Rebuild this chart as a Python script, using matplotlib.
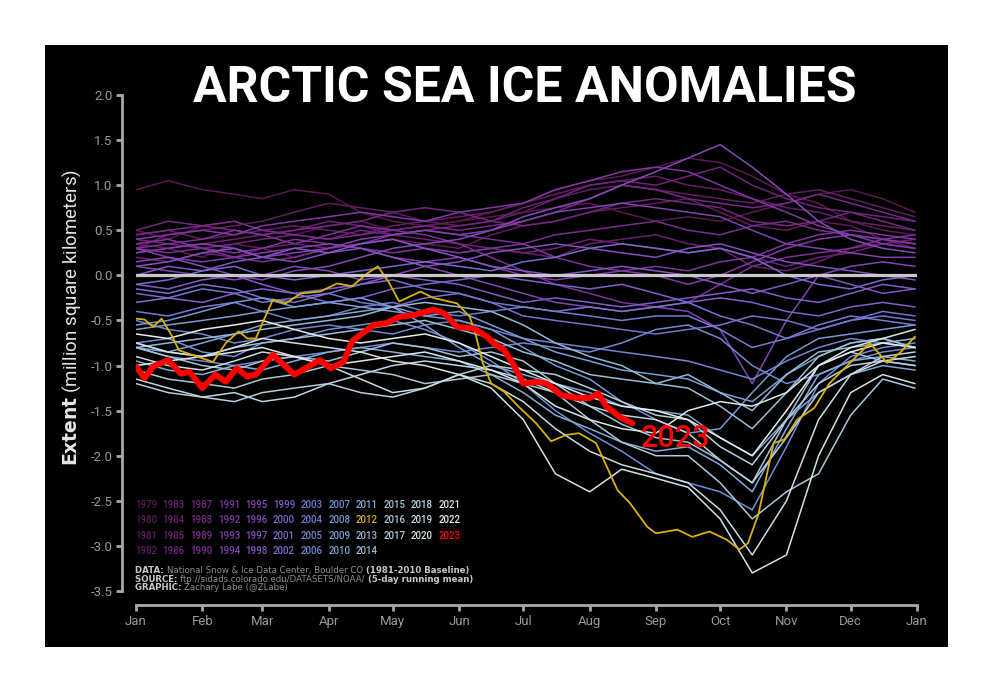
import matplotlib
matplotlib.use("Agg")
import matplotlib.pyplot as plt
from matplotlib.colors import LinearSegmentedColormap
from matplotlib.patches import Rectangle

plt.rcParams['font.family'] = ['Roboto', 'DejaVu Sans']
plt.rcParams['axes.unicode_minus'] = False

# semi-monthly sample days for the historical years
days = [0, 15, 31, 46, 59, 74, 90, 105, 120, 135, 151, 166, 181, 196, 212,
        227, 243, 258, 273, 288, 304, 319, 334, 349, 364]

# extent anomalies (million km^2)
anoms = {
    1979: [0.95, 1.05, 0.95, 0.9, 0.85, 0.95, 0.9, 0.7, 0.6, 0.55, 0.6, 0.65, 0.7, 0.75, 0.8, 0.7, 0.6, 0.65, 0.6, 0.7, 0.8, 0.9, 0.95, 0.85, 0.7],
    1980: [0.5, 0.4, 0.55, 0.6, 0.5, 0.45, 0.55, 0.6, 0.5, 0.55, 0.6, 0.7, 0.8, 0.95, 1.05, 1.1, 1.2, 1.3, 1.25, 1.1, 0.9, 0.8, 0.6, 0.5, 0.45],
    1981: [0.35, 0.3, 0.2, 0.35, 0.3, 0.2, 0.3, 0.35, 0.4, 0.35, 0.3, 0.45, 0.55, 0.6, 0.7, 0.75, 0.8, 0.85, 0.7, 0.55, 0.5, 0.6, 0.55, 0.4, 0.3],
    1982: [0.3, 0.45, 0.5, 0.55, 0.6, 0.7, 0.8, 0.75, 0.7, 0.6, 0.55, 0.6, 0.7, 0.85, 0.95, 1.0, 0.95, 0.9, 0.85, 0.8, 0.9, 0.95, 0.85, 0.75, 0.65],
    1983: [0.45, 0.5, 0.4, 0.45, 0.5, 0.55, 0.5, 0.45, 0.55, 0.6, 0.65, 0.7, 0.8, 0.9, 1.0, 1.05, 1.1, 1.0, 0.95, 0.85, 0.75, 0.7, 0.6, 0.55, 0.5],
    1984: [0.2, 0.15, 0.25, 0.2, 0.3, 0.35, 0.3, 0.35, 0.4, 0.3, 0.25, 0.3, 0.25, 0.2, 0.35, 0.4, 0.45, 0.35, 0.3, 0.1, 0.05, 0.15, 0.3, 0.35, 0.3],
    1985: [0.25, 0.3, 0.35, 0.4, 0.45, 0.5, 0.6, 0.55, 0.45, 0.4, 0.35, 0.3, 0.25, 0.3, 0.4, 0.35, 0.3, 0.25, 0.3, 0.2, 0.1, 0.2, 0.25, 0.35, 0.4],
    1986: [0.4, 0.35, 0.3, 0.35, 0.4, 0.45, 0.4, 0.5, 0.45, 0.5, 0.55, 0.6, 0.75, 0.85, 1.0, 1.05, 1.0, 1.1, 1.2, 1.0, 0.85, 0.75, 0.7, 0.65, 0.6],
    1987: [0.5, 0.6, 0.55, 0.5, 0.45, 0.5, 0.55, 0.6, 0.7, 0.75, 0.7, 0.6, 0.55, 0.6, 0.7, 0.8, 0.85, 0.8, 0.75, 0.6, 0.55, 0.6, 0.7, 0.6, 0.5],
    1988: [0.45, 0.5, 0.55, 0.6, 0.5, 0.45, 0.4, 0.45, 0.5, 0.55, 0.5, 0.55, 0.6, 0.7, 0.85, 1.0, 0.95, 0.85, 0.8, 0.75, 0.8, 0.9, 0.8, 0.7, 0.6],
    1989: [0.3, 0.25, 0.3, 0.2, 0.15, 0.2, 0.3, 0.35, 0.45, 0.5, 0.45, 0.4, 0.35, 0.45, 0.5, 0.55, 0.6, 0.5, 0.45, 0.55, 0.6, 0.5, 0.45, 0.4, 0.35],
    1990: [0.3, 0.35, 0.4, 0.5, 0.45, 0.35, 0.45, 0.55, 0.5, 0.45, 0.35, 0.2, 0.05, -0.1, -0.2, -0.3, -0.35, -0.3, -0.1, 0.1, 0.2, 0.25, 0.3, 0.4, 0.45],
    1991: [0.35, 0.4, 0.3, 0.25, 0.3, 0.4, 0.35, 0.3, 0.25, 0.3, 0.25, 0.3, 0.35, 0.2, 0.1, 0.05, 0.1, 0.05, 0.15, 0.2, 0.35, 0.45, 0.5, 0.45, 0.4],
    1992: [0.4, 0.45, 0.5, 0.45, 0.55, 0.6, 0.65, 0.7, 0.65, 0.6, 0.7, 0.75, 0.8, 0.95, 1.05, 1.15, 1.2, 1.15, 1.0, 0.85, 0.7, 0.55, 0.45, 0.4, 0.35],
    1993: [0.3, 0.2, 0.15, 0.2, 0.25, 0.3, 0.35, 0.3, 0.2, 0.15, 0.2, 0.1, 0.0, -0.05, 0.0, 0.05, 0.0, -0.1, 0.0, 0.15, 0.3, 0.4, 0.45, 0.35, 0.3],
    1994: [0.25, 0.3, 0.35, 0.3, 0.2, 0.25, 0.3, 0.4, 0.45, 0.5, 0.45, 0.5, 0.6, 0.7, 0.75, 0.8, 0.75, 0.7, 0.65, 0.5, 0.35, 0.3, 0.25, 0.2, 0.2],
    1995: [0.1, 0.05, 0.0, -0.05, 0.0, 0.1, 0.05, -0.05, 0.0, 0.1, 0.0, -0.1, -0.2, -0.3, -0.35, -0.4, -0.35, -0.4, -0.6, -1.2, -0.5, 0.0, 0.1, 0.15, 0.1],
    1996: [0.15, 0.2, 0.1, 0.0, -0.05, 0.05, 0.1, 0.2, 0.3, 0.35, 0.4, 0.5, 0.65, 0.75, 0.85, 1.0, 1.15, 1.3, 1.45, 1.2, 0.9, 0.6, 0.4, 0.3, 0.25],
    1997: [0.1, 0.15, 0.25, 0.3, 0.2, 0.15, 0.25, 0.3, 0.2, 0.1, 0.15, 0.25, 0.3, 0.35, 0.3, 0.25, 0.2, 0.3, 0.35, 0.25, 0.15, 0.1, 0.05, 0.0, -0.05],
    1998: [0.0, 0.1, 0.05, 0.15, 0.2, 0.3, 0.25, 0.35, 0.4, 0.3, 0.2, 0.1, 0.05, 0.0, 0.05, 0.1, 0.05, 0.0, -0.1, -0.2, -0.1, 0.0, -0.1, -0.2, -0.15],
    1999: [-0.1, -0.15, -0.05, 0.0, -0.1, -0.2, -0.15, -0.1, 0.0, -0.05, -0.1, -0.2, -0.3, -0.25, -0.3, -0.35, -0.3, -0.25, -0.2, -0.15, -0.25, -0.3, -0.2, -0.1, -0.15],
    2000: [-0.2, -0.25, -0.3, -0.2, -0.15, -0.2, -0.3, -0.25, -0.15, -0.1, -0.05, 0.0, -0.05, -0.1, -0.15, -0.1, -0.2, -0.3, -0.25, -0.3, -0.4, -0.45, -0.35, -0.3, -0.35],
    2001: [-0.1, -0.05, 0.05, 0.1, 0.0, -0.05, 0.0, 0.05, 0.1, 0.15, 0.1, 0.05, 0.15, 0.2, 0.3, 0.35, 0.3, 0.25, 0.3, 0.2, 0.0, -0.1, -0.15, -0.05, 0.0],
    2002: [-0.15, -0.2, -0.1, -0.15, -0.25, -0.3, -0.2, -0.1, -0.05, -0.15, -0.2, -0.3, -0.45, -0.5, -0.55, -0.6, -0.65, -0.6, -0.55, -0.45, -0.5, -0.6, -0.5, -0.4, -0.45],
    2003: [-0.3, -0.25, -0.15, -0.2, -0.3, -0.25, -0.2, -0.3, -0.35, -0.25, -0.2, -0.3, -0.35, -0.4, -0.35, -0.4, -0.35, -0.3, -0.45, -0.55, -0.7, -0.6, -0.5, -0.45, -0.5],
    2004: [-0.4, -0.45, -0.35, -0.3, -0.4, -0.5, -0.45, -0.35, -0.3, -0.4, -0.45, -0.4, -0.35, -0.4, -0.45, -0.5, -0.45, -0.45, -0.6, -0.8, -0.7, -0.55, -0.45, -0.5, -0.55],
    2005: [-0.5, -0.6, -0.65, -0.75, -0.7, -0.6, -0.55, -0.6, -0.65, -0.55, -0.5, -0.6, -0.7, -0.75, -0.8, -0.85, -0.9, -0.95, -1.05, -1.15, -0.95, -0.8, -0.7, -0.75, -0.8],
    2006: [-0.8, -0.9, -0.95, -1.0, -0.95, -0.9, -0.85, -0.8, -0.75, -0.8, -0.85, -0.8, -0.75, -0.8, -0.85, -0.75, -0.6, -0.55, -0.7, -1.0, -1.2, -1.1, -0.95, -0.85, -0.8],
    2007: [-0.75, -0.7, -0.85, -0.9, -0.75, -0.7, -0.6, -0.55, -0.5, -0.6, -0.75, -0.95, -1.2, -1.5, -1.75, -1.95, -2.2, -2.3, -2.4, -2.6, -1.9, -1.2, -0.9, -0.8, -0.75],
    2008: [-0.55, -0.5, -0.4, -0.3, -0.25, -0.35, -0.3, -0.25, -0.35, -0.45, -0.5, -0.6, -0.8, -1.0, -1.15, -1.4, -1.6, -1.75, -1.7, -1.3, -0.9, -0.7, -0.65, -0.6, -0.55],
    2009: [-0.6, -0.55, -0.5, -0.45, -0.4, -0.35, -0.3, -0.35, -0.4, -0.45, -0.4, -0.55, -0.7, -0.85, -0.95, -1.05, -1.1, -1.15, -1.3, -1.4, -1.1, -0.9, -0.75, -0.7, -0.8],
    2010: [-0.8, -0.85, -0.75, -0.65, -0.55, -0.5, -0.45, -0.4, -0.35, -0.55, -0.8, -1.0, -1.1, -1.2, -1.3, -1.45, -1.5, -1.55, -1.8, -2.0, -1.6, -1.3, -1.1, -1.0, -1.05],
    2011: [-0.95, -1.05, -1.1, -1.0, -1.05, -0.95, -0.85, -0.8, -0.85, -0.9, -0.95, -1.1, -1.3, -1.55, -1.7, -1.85, -1.95, -1.9, -2.1, -2.4, -1.7, -1.1, -0.95, -0.9, -0.95],
    2013: [-0.8, -0.75, -0.7, -0.65, -0.6, -0.55, -0.5, -0.45, -0.35, -0.3, -0.35, -0.4, -0.55, -0.75, -0.9, -1.0, -1.2, -1.1, -1.3, -1.5, -1.1, -0.85, -0.8, -0.75, -0.7],
    2014: [-0.75, -0.85, -0.9, -0.8, -0.75, -0.7, -0.65, -0.6, -0.55, -0.5, -0.6, -0.7, -0.85, -0.95, -1.1, -1.15, -1.2, -1.25, -1.45, -1.7, -1.3, -0.9, -0.75, -0.7, -0.8],
    2015: [-0.8, -0.9, -1.0, -1.05, -0.95, -0.9, -0.95, -0.85, -0.75, -0.8, -0.9, -0.85, -0.95, -1.2, -1.45, -1.65, -1.8, -1.85, -2.05, -2.3, -1.6, -1.0, -0.85, -0.95, -1.0],
    2016: [-1.05, -1.15, -1.2, -1.25, -1.15, -1.1, -1.0, -1.05, -1.1, -1.2, -1.15, -1.1, -1.2, -1.3, -1.6, -1.85, -2.0, -2.0, -2.3, -2.7, -2.4, -2.2, -1.55, -1.15, -1.25],
    2017: [-1.2, -1.3, -1.35, -1.4, -1.3, -1.25, -1.2, -1.3, -1.35, -1.25, -1.1, -1.0, -1.05, -1.1, -1.25, -1.4, -1.55, -1.6, -1.9, -2.1, -1.6, -1.2, -1.0, -0.95, -1.0],
    2018: [-1.15, -1.25, -1.35, -1.3, -1.4, -1.35, -1.2, -1.1, -1.0, -0.95, -1.0, -1.05, -1.15, -1.3, -1.45, -1.55, -1.6, -1.75, -2.05, -2.3, -1.8, -1.3, -1.1, -0.9, -0.85],
    2019: [-0.9, -1.0, -1.05, -0.95, -0.85, -0.9, -1.0, -1.15, -1.3, -1.25, -1.1, -1.2, -1.4, -1.7, -1.95, -2.1, -2.2, -2.3, -2.6, -3.1, -2.5, -1.6, -1.1, -0.95, -0.9],
    2020: [-0.75, -0.85, -0.9, -0.8, -0.7, -0.75, -0.8, -0.85, -0.95, -1.0, -1.1, -1.25, -1.6, -2.2, -2.4, -2.15, -2.25, -2.35, -2.7, -3.3, -3.1, -2.0, -1.3, -1.1, -1.2],
    2021: [-1.0, -0.95, -0.9, -0.85, -0.8, -0.9, -1.0, -0.95, -0.9, -0.85, -0.95, -1.05, -1.2, -1.45, -1.6, -1.7, -1.75, -1.5, -1.4, -1.45, -1.3, -1.0, -0.8, -0.7, -0.6],
    2022: [-0.65, -0.7, -0.6, -0.55, -0.5, -0.6, -0.7, -0.75, -0.7, -0.65, -0.75, -0.9, -1.05, -1.2, -1.35, -1.45, -1.5, -1.6, -1.8, -2.0, -1.5, -1.0, -0.85, -0.75, -0.8],
}

# 2012 (gold) read in more detail
days_2012 = [0, 4, 8, 12, 17, 20, 26, 36, 42, 48, 52, 56, 60, 64, 70, 77, 86, 94, 101, 108,
             113, 118, 123, 133, 139, 150, 156, 159, 162, 166, 172, 179, 187, 194, 201, 207,
             215, 220, 225, 231, 239, 243, 253, 260, 268, 276, 282, 286, 291, 295, 298, 303,
             309, 317, 324, 332, 343, 351, 357, 364]
vals_2012 = [-0.48, -0.49, -0.57, -0.48, -0.68, -0.83, -0.88, -0.96, -0.75, -0.62, -0.70, -0.70,
             -0.48, -0.27, -0.31, -0.20, -0.18, -0.09, -0.12, 0.02, 0.10, -0.07, -0.29, -0.18,
             -0.25, -0.31, -0.46, -0.68, -0.97, -1.20, -1.29, -1.46, -1.64, -1.84, -1.77, -1.75,
             -1.86, -2.12, -2.38, -2.53, -2.79, -2.86, -2.82, -2.90, -2.84, -2.93, -3.04, -2.97,
             -2.64, -2.19, -1.86, -1.82, -1.60, -1.47, -1.20, -1.01, -0.75, -0.97, -0.86, -0.68]

# 2023 (red) to late August
days_2023 = [0, 4, 8, 15, 21, 25, 31, 37, 42, 47, 52, 56, 64, 74, 86, 91, 97, 101, 111, 117,
             123, 130, 139, 144, 150, 158, 164, 167, 172, 176, 181, 187, 192, 199, 206, 212,
             216, 220, 223, 226, 232]
vals_2023 = [-1.01, -1.14, -1.01, -0.94, -1.09, -1.07, -1.25, -1.10, -1.18, -1.03, -1.12, -1.10,
             -0.88, -1.10, -0.94, -1.03, -0.96, -0.73, -0.55, -0.53, -0.46, -0.44, -0.38, -0.42,
             -0.57, -0.59, -0.68, -0.75, -0.83, -0.97, -1.20, -1.18, -1.20, -1.33, -1.36, -1.36,
             -1.31, -1.46, -1.51, -1.57, -1.64]

month_days = [0, 31, 59, 90, 120, 151, 181, 212, 243, 273, 304, 334, 365]
month_labels = ['Jan', 'Feb', 'Mar', 'Apr', 'May', 'Jun', 'Jul', 'Aug', 'Sep', 'Oct', 'Nov', 'Dec', 'Jan']
yticks = [2.0, 1.5, 1.0, 0.5, 0.0, -0.5, -1.0, -1.5, -2.0, -2.5, -3.0, -3.5]

cmap = LinearSegmentedColormap.from_list('years', [
    (0.0, '#5a1850'), (0.15, '#71207a'), (0.3, '#8336a6'), (0.45, '#8456c6'),
    (0.55, '#7674d0'), (0.65, '#6f8fd4'), (0.75, '#86aed6'), (0.87, '#b0cad8'),
    (1.0, '#e4ecec')])

def year_color(y):
    if y == 2012:
        return '#d9b10a'
    if y == 2023:
        return '#ff0000'
    return cmap((y - 1979) / (2022 - 1979))

fig = plt.figure(figsize=(9.94, 6.92), dpi=100, facecolor='white')
fig.patches.append(Rectangle((45 / 994, 1 - 647 / 692), 903 / 994, 602 / 692,
                             transform=fig.transFigure, facecolor='black',
                             edgecolor='none', zorder=-10))
ax = fig.add_axes([136 / 994, 1 - 591 / 692, 781 / 994, 496 / 692])
ax.set_facecolor('black')

for yr in sorted(anoms):
    ax.plot(days, anoms[yr], color=year_color(yr), lw=1.1, zorder=2)
ax.plot(days_2012, vals_2012, color=year_color(2012), lw=1.3, zorder=3)
ax.axhline(0, color='#c8c8c8', lw=2.3, zorder=4)
ax.plot(days_2023, vals_2023, color='#ff0000', lw=4.3, zorder=6,
        solid_capstyle='round', solid_joinstyle='round')
ax.text(days_2023[-1] + 4, vals_2023[-1] - 0.17, '2023', color='#ff0000',
        fontsize=22, fontweight='medium', va='center', ha='left', zorder=7)

ax.set_xlim(0, 365)
ax.set_ylim(-3.5, 2.0)
ax.set_xticks(month_days)
ax.set_xticklabels(month_labels)
ax.set_yticks(yticks)
ax.set_yticklabels(['%.1f' % v for v in yticks])
for side in ['top', 'right']:
    ax.spines[side].set_visible(False)
for side in ['left', 'bottom']:
    ax.spines[side].set_position(('outward', 10))
    ax.spines[side].set_color('#a8a8a8')
    ax.spines[side].set_linewidth(2)
ax.tick_params(colors='#a8a8a8', width=2, length=4, direction='out',
               labelsize=9.5, labelcolor='#9a9a9a', pad=3)

fig.text(525 / 994, 1 - 88 / 692, 'ARCTIC SEA ICE ANOMALIES', color='white',
         fontsize=36, fontweight='bold', ha='center', va='center')
fig.text(72 / 994, 1 - 317 / 692,
         r'$\bf{Extent}$ (million square kilometers)', color='#e6e6e6',
         fontsize=13.5, rotation=90, ha='center', va='center')

# year key
for yr in range(1979, 2024):
    if yr <= 2014:
        col, row = (yr - 1979) // 4, (yr - 1979) % 4
    else:
        col, row = 9 + (yr - 2015) // 3, (yr - 2015) % 3
    fig.text((135 + 27.6 * col) / 994, 1 - (505 + 15.4 * row) / 692, str(yr),
             color=year_color(yr), fontsize=7, ha='left', va='center',
             fontweight='medium')

# credits
credit_lines = [
    [('DATA: ', '#c8c8c8', 'bold'), ('National Snow & Ice Data Center, Boulder CO ', '#8c8c8c', 'normal'),
     ('(1981-2010 Baseline)', '#c8c8c8', 'bold')],
    [('SOURCE: ', '#c8c8c8', 'bold'), ('ftp://sidads.colorado.edu/DATASETS/NOAA/ ', '#8c8c8c', 'normal'),
     ('(5-day running mean)', '#c8c8c8', 'bold')],
    [('GRAPHIC: ', '#c8c8c8', 'bold'), ('Zachary Labe (@ZLabe)', '#8c8c8c', 'normal')],
]
for i, parts in enumerate(credit_lines):
    s, c, w = parts[0]
    prev = fig.text(135 / 994, 1 - (575 + 8.5 * i) / 692, s, color=c,
                    fontweight=w, fontsize=6.2, ha='left', va='bottom',
                    family='DejaVu Sans')
    for s, c, w in parts[1:]:
        prev = ax.annotate(s, xy=(1, 0), xycoords=prev, color=c, fontweight=w,
                           fontsize=6.2, ha='left', va='bottom', family='DejaVu Sans',
                           annotation_clip=False)

fig.savefig('out.png', dpi=100, facecolor='white')
